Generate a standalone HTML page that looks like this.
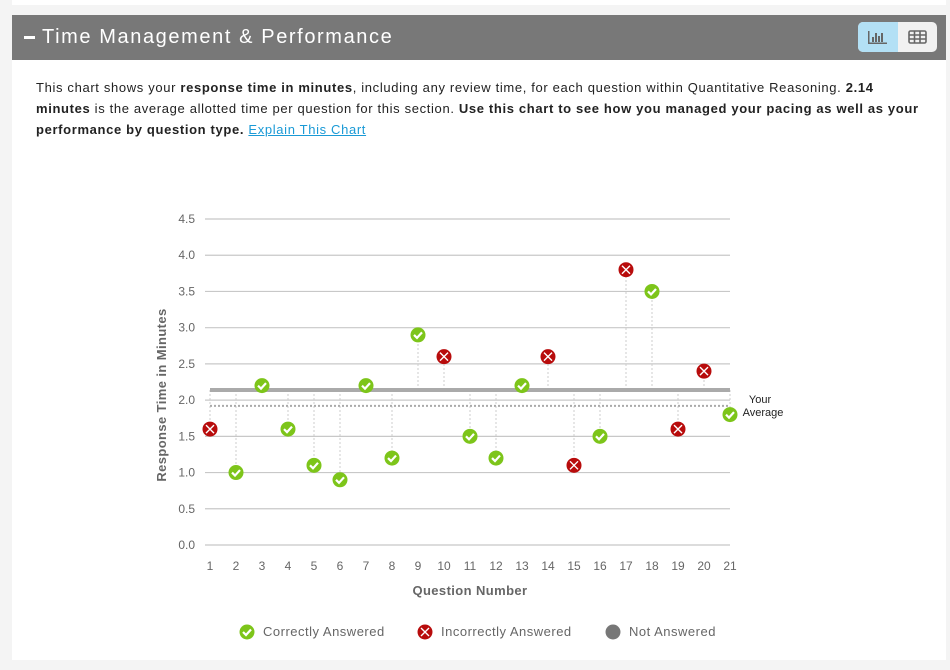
<!DOCTYPE html>
<html><head><style>
body{margin:0;width:950px;height:670px;background:#f4f4f4;font-family:"Liberation Sans",sans-serif;position:relative;overflow:hidden}
.top{position:absolute;left:12px;top:0;width:934px;height:5px;background:#fff}
.panel{position:absolute;left:12px;top:15px;width:934px;height:645px;background:#fff}
.hdr{position:absolute;left:0;top:0;width:934px;height:45px;background:#787878;color:#fff;font-size:20px;letter-spacing:1.6px;line-height:45px}
.hdr .t{position:absolute;left:30px;top:0}
.hdr .m{position:absolute;left:12px;top:21px;width:11px;height:3px;background:#fff}
.btns{position:absolute;left:846px;top:7px;width:79px;height:30px;border-radius:5px;overflow:hidden;background:#f1f1f1}
.btns .a{position:absolute;left:0;top:0;width:40px;height:30px;background:#b3e0f5}
.txt{position:absolute;left:24px;top:62px;width:900px;font-size:13px;line-height:21px;color:#222;white-space:nowrap;letter-spacing:0.65px}
.txt a{color:#1a9ad6;text-decoration:underline}
</style></head><body>
<div class="top"></div>
<div class="panel">
<div class="hdr"><div class="m"></div><div class="t">Time Management &amp; Performance</div>
<div class="btns"><div class="a"></div>
<svg width="79" height="30" style="position:absolute;left:0;top:0">
<g fill="#666"><rect x="10" y="9" width="1.5" height="13"/><rect x="10" y="20.5" width="19" height="1.5"/><rect x="14" y="15" width="2" height="5"/><rect x="17" y="11" width="2" height="9"/><rect x="20" y="14" width="2" height="6"/><rect x="23" y="11" width="2" height="9"/></g>
<g fill="none" stroke="#666" stroke-width="1.6"><rect x="51" y="9" width="17" height="12" rx="1.5"/><line x1="51" y1="13" x2="68" y2="13"/><line x1="51" y1="17" x2="68" y2="17"/><line x1="56.5" y1="9" x2="56.5" y2="21"/><line x1="62" y1="9" x2="62" y2="21"/></g>
</svg></div></div>
<div class="txt">This chart shows your <b>response time in minutes</b>, including any review time, for each question within Quantitative Reasoning. <b>2.14</b><br><b>minutes</b> is the average allotted time per question for this section. <b>Use this chart to see how you managed your pacing as well as your</b><br><b>performance by question type.</b> <a>Explain This Chart</a></div>
</div>
<svg width="950" height="670" style="position:absolute;left:0;top:0" font-family="Liberation Sans,sans-serif">
<g id="grid"></g>
</svg>
<script>
var s='',y0=545,k=72.44;function Y(v){return y0-v*k}function X(i){return 210+(i-1)*26}
for(var i=0;i<=9;i++){var v=i*0.5,y=Y(v);s+='<line x1="205" x2="730" y1="'+y+'" y2="'+y+'" stroke="#c8c8c8" stroke-width="1.2"/><text x="195" y="'+(y+4)+'" font-size="12" fill="#666" text-anchor="end">'+v.toFixed(1)+'</text>';}
for(i=1;i<=21;i++)s+='<text x="'+X(i)+'" y="570" font-size="12" fill="#666" text-anchor="middle">'+i+'</text>';
var a=Y(2.14),d=Y(1.92);
var D=[[1.6,0],[1.0,1],[2.2,1],[1.6,1],[1.1,1],[0.9,1],[2.2,1],[1.2,1],[2.9,1],[2.6,0],[1.5,1],[1.2,1],[2.2,1],[2.6,0],[1.1,0],[1.5,1],[3.8,0],[3.5,1],[1.6,0],[2.4,0],[1.8,1]];
D.forEach(function(p,j){s+='<line x1="'+X(j+1)+'" x2="'+X(j+1)+'" y1="'+a+'" y2="'+Y(p[0])+'" stroke="#ccc" stroke-dasharray="2,2"/>';});
s+='<line x1="210" x2="730" y1="'+a+'" y2="'+a+'" stroke="#aaa" stroke-width="4"/><line x1="210" x2="730" y1="'+d+'" y2="'+d+'" stroke="#aaa" stroke-width="2" stroke-dasharray="2,2"/>';
function mk(x,y,ok){if(ok)return '<circle cx="'+x+'" cy="'+y+'" r="7.5" fill="#7dc51a"/><path d="M'+(x-4)+' '+y+' l3 3 l5 -5.5" stroke="#fff" stroke-width="2.2" fill="none"/>';
return '<circle cx="'+x+'" cy="'+y+'" r="7.5" fill="#b80c0c"/><path d="M'+(x-4)+' '+(y-4)+' l8 8 M'+(x+4)+' '+(y-4)+' l-8 8" stroke="#fff" stroke-width="1.4"/>';}
D.forEach(function(p,j){s+=mk(X(j+1),Y(p[0]),p[1]);});
s+='<text x="760" y="403" font-size="11" fill="#222" text-anchor="middle">Your</text><text x="763" y="416" font-size="11" fill="#222" text-anchor="middle">Average</text>';
s+='<text x="470" y="595" font-size="13" font-weight="bold" fill="#666" text-anchor="middle" letter-spacing="0.4">Question Number</text>';
s+='<text transform="translate(166,395) rotate(-90)" font-size="13" font-weight="bold" fill="#666" text-anchor="middle" letter-spacing="0.4">Response Time in Minutes</text>';
s+=mk(247,632,1)+'<text x="263" y="636" font-size="13" fill="#666" letter-spacing="0.5">Correctly Answered</text>'+mk(425,632,0)+'<text x="441" y="636" font-size="13" fill="#666" letter-spacing="0.5">Incorrectly Answered</text><circle cx="613" cy="632" r="7.5" fill="#777"/><text x="629" y="636" font-size="13" fill="#666" letter-spacing="0.5">Not Answered</text>';
document.getElementById('grid').innerHTML=s;
</script>
</body></html>
